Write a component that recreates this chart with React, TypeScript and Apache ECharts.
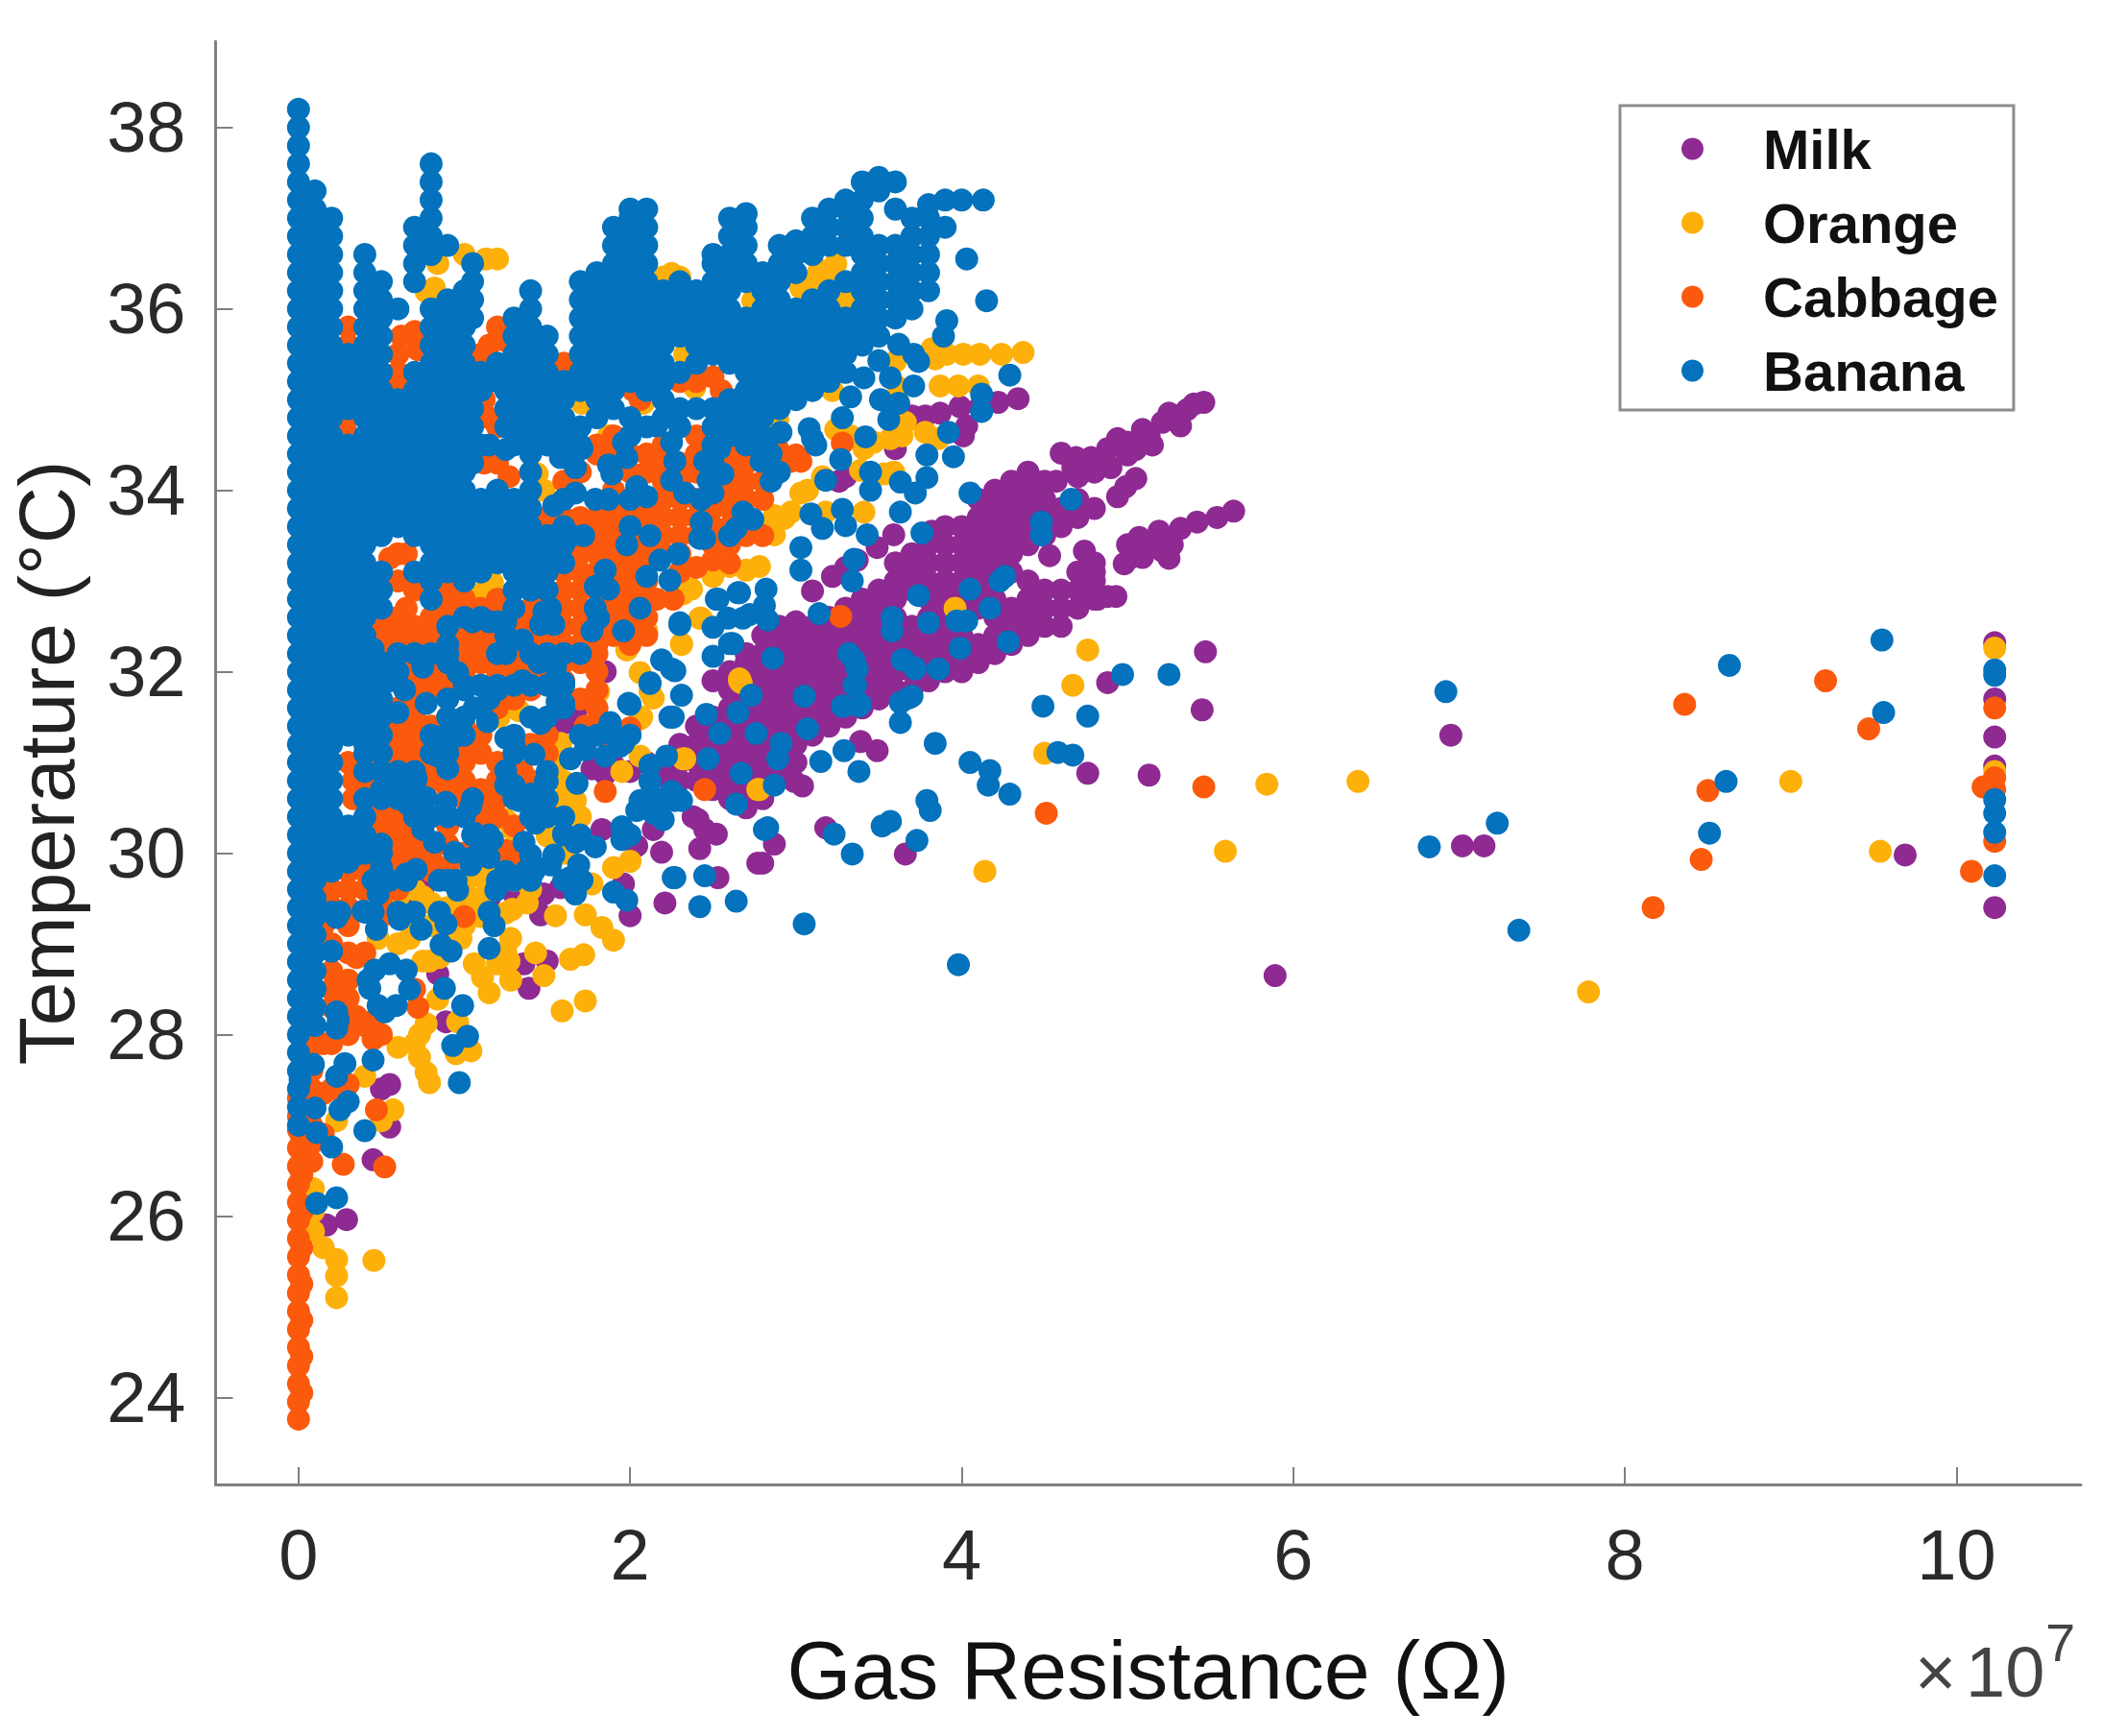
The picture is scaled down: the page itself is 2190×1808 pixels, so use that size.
import React, { useEffect, useRef } from 'react';
import * as echarts from 'echarts';

const xTicks = [0, 2, 4, 6, 8, 10];
const yTicks = [24, 26, 28, 30, 32, 34, 36, 38];

// x in units of 1e7 ohm, y in degrees C
const milkColumns: [number, number[]][] = [
  [2.3, [31.0, 31.2]],
  [2.4, [30.8, 31.0, 31.2, 31.4]],
  [2.5, [30.7, 30.9, 31.1, 31.3, 31.5, 31.9]],
  [2.6, [30.6, 30.8, 31.0, 31.2, 31.4, 31.6, 31.8, 32.0]],
  [2.7, [30.5, 30.7, 30.9, 31.1, 31.3, 31.5, 31.7, 31.9, 32.1, 32.2]],
  [2.8, [30.6, 30.8, 31.0, 31.2, 31.4, 31.6, 31.8, 32.0, 32.2, 32.4]],
  [2.9, [30.9, 31.1, 31.3, 31.5, 31.7, 31.9, 32.1, 32.3, 32.5]],
  [3.0, [31.0, 31.2, 31.4, 31.6, 31.8, 32.0, 32.2, 32.4, 32.55]],
  [3.1, [31.3, 31.5, 31.7, 31.9, 32.1, 32.3, 32.5]],
  [3.2, [31.4, 31.6, 31.8, 32.0, 32.2, 32.4, 32.6]],
  [3.3, [31.5, 31.7, 31.9, 32.1, 32.3, 32.5, 32.7]],
  [3.4, [31.6, 31.8, 32.0, 32.2, 32.4, 32.6, 32.8]],
  [3.5, [31.7, 31.9, 32.1, 32.3, 32.5, 32.7, 32.9]],
  [3.6, [31.8, 32.0, 32.2, 32.4, 32.6, 32.8, 33.0, 33.2]],
  [3.7, [31.8, 32.0, 32.1, 32.3, 32.5, 32.9, 33.1, 33.3]],
  [3.8, [31.9, 32.1, 32.2, 32.4, 32.6, 32.8, 33.0, 33.2, 33.4]],
  [3.9, [32.0, 32.1, 32.3, 32.5, 32.7, 32.9, 33.0, 33.2, 33.4, 33.6]],
  [4.0, [32.0, 32.2, 32.4, 32.6, 32.8, 33.0, 33.2, 33.4, 33.6]],
  [4.1, [32.1, 32.3, 32.7, 32.9, 33.1, 33.3, 33.5, 33.7, 33.9]],
  [4.2, [32.2, 32.4, 32.6, 32.8, 33.0, 33.2, 33.4, 33.6, 33.8, 34.0]],
  [4.3, [32.3, 32.5, 32.7, 33.1, 33.3, 33.5, 33.7, 33.9, 34.1]],
  [4.4, [32.4, 32.6, 32.8, 33.0, 33.4, 33.6, 33.8, 34.0, 34.2]],
  [4.5, [32.5, 32.7, 32.9, 33.5, 33.7, 33.9, 34.1]],
  [4.6, [32.5, 32.7, 32.9, 33.6, 33.8]],
  [4.7, [32.7, 32.9, 33.1, 33.7, 33.9]],
  [4.8, [32.8, 33.0, 33.2, 33.8]],
];
const milkLoose: [number, number][] = [
  [5.46, 34.97], [5.4, 34.95], [5.36, 34.89], [5.32, 34.71], [5.3, 34.82], [5.25, 34.85], [5.21, 34.75], [5.15, 34.5], [5.13, 34.6], [5.09, 34.67],
  [5.07, 34.53], [5.05, 34.45], [5.0, 34.53], [5.0, 34.39], [4.94, 34.57], [4.9, 34.25], [4.88, 34.46], [4.86, 34.36], [4.8, 34.2], [4.78, 34.36],
  [4.76, 34.25], [4.7, 34.15], [4.69, 34.36], [4.67, 34.25], [4.6, 34.41], [4.57, 34.1],
  [5.05, 34.13], [4.99, 34.04], [4.94, 33.93],
  [5.64, 33.77], [5.54, 33.7], [5.42, 33.65], [5.32, 33.58], [5.27, 33.4], [5.25, 33.25], [5.21, 33.33], [5.2, 33.45], [5.19, 33.55],
  [5.15, 33.44], [5.1, 33.35], [5.09, 33.26], [5.07, 33.48], [5.02, 33.26], [5.0, 33.4], [4.98, 33.19],
  [4.88, 32.83], [4.53, 33.28], [4.74, 33.33], [4.8, 33.1], [4.82, 32.8],
  [4.34, 35.01], [4.22, 34.97], [4.11, 34.92], [3.99, 34.92], [3.87, 34.85], [3.78, 34.82], [3.7, 34.82],
  [4.03, 34.71], [4.01, 34.6], [3.6, 34.46], [3.3, 34.15], [3.26, 34.1],
  [3.59, 33.51], [3.49, 33.37], [3.37, 33.23], [3.22, 33.05], [3.1, 32.89], [3.3, 33.15], [3.82, 33.55],
  [10.23, 32.32], [10.23, 31.7], [10.23, 31.28], [10.23, 30.96], [10.23, 29.4],
  [9.69, 29.98], [7.15, 30.08], [7.02, 30.08], [6.95, 31.3], [5.89, 28.65], [5.47, 32.22], [5.45, 31.58],
  [5.13, 30.86], [4.76, 30.88], [4.88, 31.88], [4.93, 32.83],
  [3.04, 30.74], [2.99, 30.79], [3.39, 31.23], [3.49, 31.13], [3.18, 30.28], [3.66, 29.99], [2.87, 30.1],
  [2.77, 29.89], [2.53, 29.73], [2.42, 30.05], [2.41, 30.37], [2.45, 30.26], [2.52, 30.21], [2.21, 29.45],
  [2.0, 29.31], [1.96, 29.66], [2.8, 29.89], [2.19, 30.01], [2.38, 30.4], [2.14, 30.26], [2.04, 30.08],
  [1.83, 30.26], [1.54, 30.54], [1.6, 30.5], [1.46, 29.32], [1.36, 28.78], [1.39, 28.51], [1.5, 28.81],
  [.84, 28.67], [.89, 28.14], [.5, 27.4], [.55, 27.45], [.55, 26.98], [.45, 26.62], [.17, 25.9], [.29, 25.96],
  [1.77, 30.93], [1.85, 30.87], [1.9, 30.97], [1.67, 31.53], [1.6, 31.43], [1.55, 31.45], [1.85, 32.0],
  [1.48, 29.55], [1.58, 29.62], [1.35, 29.7], [1.3, 29.55], [.75, 29.6], [.7, 29.4], [1.15, 29.5], [1.15, 29.3],
  [2.0, 30.9], [2.1, 31.0], [2.2, 30.85], [2.3, 30.8],
];

const orangeLoose: [number, number][] = [
  [.23, 25.1], [.23, 25.34], [.23, 25.52], [.15, 25.65], [.09, 25.83], [.455, 25.51], [.09, 26.3], [.09, 26.05],
  [.6, 27.86], [.7, 27.9], [.77, 28.12], [.73, 28.0], [.73, 27.75], [.77, 27.58], [.79, 27.47], [.84, 28.39],
  [.96, 28.14], [1.04, 27.82], [.95, 27.79], [1.73, 28.37], [1.59, 28.26], [1.64, 28.83], [1.72, 28.88],
  [1.9, 29.04], [1.83, 29.18], [1.73, 29.32], [1.55, 29.31], [1.48, 28.65], [1.43, 28.9], [1.28, 28.6],
  [1.27, 28.81], [1.28, 29.06], [1.25, 28.92], [1.2, 28.78], [1.15, 28.46], [1.11, 28.63], [1.06, 28.78],
  [.98, 29.06], [.79, 28.81], [.75, 28.81], [.8, 29.45], [.84, 29.38], [.75, 29.52], [1.08, 29.45], [1.02, 29.38],
  [1.29, 29.38], [1.38, 29.45], [1.25, 29.34], [1.77, 29.66], [1.9, 29.84], [2.0, 29.91], [2.33, 31.04],
  [2.67, 31.88], [2.77, 30.7], [1.58, 31.18], [1.56, 31.0], [1.6, 30.79], [1.67, 30.58], [1.25, 30.37],
  [1.29, 30.26], [1.5, 30.19], [1.11, 29.73], [.48, 29.06], [.67, 29.06], [.23, 27.05], [.4, 27.54], [.57, 27.17],
  [.5, 27.05], [2.06, 31.07], [2.12, 31.78], [2.06, 31.48], [1.81, 31.78], [1.95, 30.9], [.8, 29.2], [.9, 29.1],
  [.6, 29.5], [.7, 29.6], [1.0, 29.6], [1.0, 29.8], [1.2, 29.9], [1.3, 29.7], [1.4, 29.6], [1.1, 29.5], [1.1, 29.3],
  [.6, 29.0], [.7, 29.2], [.9, 29.4], [1.0, 29.2], [.85, 28.85], [1.6, 30.6], [1.7, 30.4], [1.5, 30.4], [1.6, 30.0],
  [2.42, 32.59], [2.31, 32.3], [2.32, 32.86], [2.1, 32.45], [1.98, 32.24], [2.06, 31.99], [2.14, 31.71],
  [2.07, 31.5], [1.77, 31.71], [1.58, 31.21], [2.7, 33.12], [2.78, 33.16], [2.6, 33.16], [2.5, 33.05],
  [2.37, 32.91], [2.66, 31.9], [1.15, 33.05], [1.17, 32.98], [1.11, 32.87], [.98, 32.73], [1.21, 31.5],
  [1.33, 31.57], [2.76, 33.62], [1.48, 34.0], [1.44, 34.18], [1.87, 34.6], [1.71, 34.96], [2.08, 34.96],
  [2.39, 35.13], [2.33, 35.5], [1.75, 35.75], [1.95, 36.2], [2.74, 36.09], [2.56, 36.33], [2.25, 36.39],
  [.77, 36.19], [.82, 36.23], [2.62, 34.64], [2.2, 36.35],
  [3.82, 35.56], [3.91, 35.5], [4.01, 35.5], [4.11, 35.5], [4.24, 35.5], [4.37, 35.52], [3.84, 35.45],
  [3.87, 35.15], [3.98, 35.15], [4.1, 35.15], [3.6, 35.42], [3.62, 35.13], [3.22, 35.1],
  [3.66, 34.75], [3.78, 34.64], [3.86, 34.57], [3.57, 34.57], [3.64, 34.6], [3.47, 34.53], [3.33, 34.6],
  [3.24, 34.67], [3.41, 34.46], [3.59, 34.2], [3.53, 34.18], [3.39, 34.22], [3.07, 34.0], [3.16, 34.15],
  [3.03, 33.97], [2.87, 33.72], [2.93, 33.69], [2.87, 33.51], [2.97, 33.76], [3.41, 33.76], [3.18, 33.76],
  [2.89, 34.78], [3.29, 36.09], [3.08, 36.3], [3.03, 36.23], [3.18, 36.4], [3.96, 32.7], [4.76, 32.24],
  [4.67, 31.85], [4.5, 31.1], [4.14, 29.8], [2.32, 31.04], [2.66, 31.92], [2.31, 32.31], [2.43, 32.59], [2.78, 30.7],
  [1.13, 36.55], [1.0, 36.6], [.84, 36.5], [2.3, 36.35], [3.14, 36.43], [3.24, 36.5], [1.2, 36.55],
  [10.23, 32.26], [10.23, 30.9], [6.39, 30.79], [5.84, 30.76], [9.0, 30.79], [9.54, 30.02], [7.78, 28.47], [5.59, 30.02],
];

const cabbageColumns: [number, number[]][] = [
  [0.0, [23.76, 23.95, 24.15, 24.35, 24.55, 24.75, 24.95, 25.15, 25.35, 25.55, 25.75, 25.95, 26.15, 26.35, 26.55, 26.75, 26.95, 27.1, 27.3]],
  [0.02, [24.05, 24.45, 24.85, 25.25, 25.65, 26.05, 26.45, 26.85, 27.2]],
  [0.08, [26.6, 26.8, 27.0, 27.2, 27.4, 27.6]],
  [0.4, [29.6, 29.8, 30.6, 30.8, 31.0]],
  [0.5, [29.3, 29.5, 30.3, 30.5, 32.3, 32.5]],
  [0.6, [29.6, 29.8, 30.0, 30.2, 30.4, 31.0, 31.2, 31.4, 31.6, 32.4, 32.6, 33.0]],
  [0.7, [29.9, 30.1, 30.3, 30.7, 31.1, 31.3, 31.5, 31.7, 31.9, 32.1, 32.3, 32.5]],
  [0.8, [29.8, 30.0, 30.4, 30.8, 31.0, 31.2, 31.4, 31.8, 32.0, 32.2, 32.4, 32.6]],
  [0.9, [30.1, 30.3, 30.7, 31.5, 31.9, 32.7, 32.9]],
  [1.0, [30.0, 30.6, 30.8, 31.0, 31.2, 31.4, 32.0, 32.2, 32.4, 32.6, 32.8]],
  [1.1, [30.3, 30.5, 30.7, 31.1, 31.3, 32.1, 32.3, 32.5, 32.7]],
  [1.2, [30.4, 30.6, 30.8, 31.0, 31.6, 32.0, 32.2, 32.4, 32.6, 32.8]],
  [1.3, [30.3, 30.7, 30.9, 31.1, 31.7, 31.9, 32.1, 32.3, 32.5]],
  [1.4, [30.8, 31.2, 31.8, 32.0, 32.2, 32.4]],
  [1.5, [31.1, 31.3, 31.9, 32.1, 32.3]],
  [1.6, [31.9, 32.1, 33.1, 32.9, 32.7, 32.5, 32.3, 34.1, 33.7]],
  [1.7, [31.7, 32.1, 34.2, 33.7, 33.5, 33.3, 33.1, 32.9, 32.7, 32.5, 32.3, 32.15]],
  [1.8, [31.6, 31.8, 32.0, 32.2, 34.5, 34.4, 33.7, 33.5, 33.3, 33.1, 32.9, 32.7, 32.5, 32.3]],
  [1.9, [34.6, 34.4, 34.2, 34.0, 33.8, 33.6, 33.4, 33.2, 33.0, 32.8, 32.6, 32.4]],
  [2.0, [34.4, 34.2, 33.7, 33.5, 33.3, 33.1, 32.9, 32.7, 32.5, 32.3]],
  [2.1, [34.4, 34.2, 33.8, 33.6, 33.4, 33.2, 33.0, 32.8, 32.6, 32.4]],
  [2.2, [34.5, 34.3, 34.1, 33.9, 33.7, 33.5, 33.3]],
  [2.3, [34.3, 34.1, 33.9, 33.7, 33.5, 33.3, 33.1]],
  [2.4, [34.6, 34.4, 34.2, 33.9, 33.7, 33.5]],
  [2.5, [33.8, 33.6, 33.4]],
  [2.6, [34.4, 34.2, 34.0, 33.8, 33.6, 33.4]],
  [2.7, [34.3, 34.1, 33.9, 33.5]],
  [2.8, [34.1, 33.9, 33.5]],
];
const cabbageLoose: [number, number][] = [
  [.3, 35.8], [.3, 35.6], [.62, 35.7], [.6, 35.5], [.6, 35.3], [.6, 35.15], [.7, 35.75], [.72, 35.55],
  [1.2, 35.8], [1.15, 35.6], [1.1, 35.5], [1.25, 35.65], [1.6, 35.4], [1.55, 35.35], [1.65, 35.35],
  [2.06, 35.0], [2.02, 35.1], [2.4, 35.2], [2.5, 35.25], [2.55, 35.1], [2.3, 35.2],
  [1.12, 35.0], [1.15, 34.8], [1.2, 34.7], [1.12, 34.3], [1.2, 34.3], [1.27, 34.15], [.28, 34.7],
  [1.5, 33.7], [1.4, 32.5], [1.4, 32.7], [1.5, 32.3], [1.45, 32.85], [1.35, 32.6],
  [2.5, 33.23], [2.4, 33.15], [2.6, 33.2], [2.16, 32.8], [2.26, 32.8],
  [.6, 33.3], [.55, 33.25], [.65, 33.3], [.7, 32.9], [.65, 32.7], [.55, 32.4],
  [.75, 32.45], [.3, 32.2],
  [.3, 31.0], [.33, 30.8], [.33, 30.6], [.36, 30.9],
  [.7, 30.0], [.9, 29.85], [.85, 29.8],
  [1.35, 30.9], [1.3, 29.95], [.3, 30.1], [.25, 30.15], [.2, 29.4], [.2, 29.6], [.3, 29.6], [.3, 29.8],
  [.3, 29.4], [.3, 29.2], [.15, 29.2], [.2, 29.0], [.3, 28.9], [.2, 28.7], [.3, 28.6], [.3, 28.4], [.2, 28.5],
  [.2, 28.3], [.1, 28.3], [.1, 28.1], [.15, 27.9], [.1, 27.9], [.05, 27.7], [.2, 27.9], [.3, 28.0], [.35, 28.2],
  [.4, 28.1], [.45, 28.15], [.45, 27.95], [.5, 28.0], [.35, 28.85], [.4, 28.9], [.05, 27.3], [.2, 27.4], [.3, 27.45],
  [.15, 27.35], [.15, 26.9], [.7, 28.5], [.72, 28.3], [1.85, 30.68], [1.73, 31.4], [1.8, 31.4], [1.85, 31.3],
  [2.0, 31.38], [2.45, 30.7], [1.0, 29.3], [1.25, 30.03], [.47, 27.17], [.27, 26.57], [.52, 26.54],
  [2.89, 34.46], [3.0, 34.39], [3.28, 34.52], [2.97, 34.32], [3.03, 34.32], [3.27, 32.61],
  [9.21, 31.9], [9.47, 31.37], [8.36, 31.64], [8.5, 30.69], [8.46, 29.93], [8.17, 29.4], [10.09, 29.8], [10.16, 30.73],
  [10.23, 31.6], [10.23, 30.83], [10.23, 30.7], [10.23, 30.13], [5.46, 30.73], [4.51, 30.44],
];

const bananaColumns: [number, number[]][] = [
  [0.0, [27.0, 27.2, 27.4, 27.6, 27.8, 28.0, 28.2, 28.4, 28.6, 28.8, 29.0, 29.2, 29.4, 29.6, 29.8, 30.0, 30.2, 30.4, 30.6, 30.8, 31.0, 31.2, 31.4, 31.6, 31.8, 32.0, 32.2, 32.4, 32.6, 32.8, 33.0, 33.2, 33.4, 33.6, 33.8, 34.0, 34.2, 34.4, 34.6, 34.8, 35.0, 35.2, 35.4, 35.6, 35.8, 36.0, 36.2, 36.4, 36.6, 36.8, 37.0, 37.2, 37.4, 37.6, 37.8, 38.0, 38.2]],
  [0.1, [28.1, 28.3, 28.5, 28.7, 28.9, 29.1, 29.3, 29.5, 29.7, 29.9, 30.1, 30.3, 30.5, 30.7, 30.9, 31.1, 31.3, 31.5, 31.7, 31.9, 32.1, 32.3, 32.5, 32.7, 32.9, 33.1, 33.3, 33.5, 33.7, 33.9, 34.1, 34.3, 34.5, 34.7, 34.9, 35.1, 35.3, 35.5, 35.7, 35.9, 36.1, 36.3, 36.5, 36.7, 36.9, 37.1, 37.3]],
  [0.2, [29.8, 30.0, 30.2, 30.4, 30.6, 30.8, 31.0, 31.2, 31.4, 31.6, 31.8, 32.0, 32.2, 32.4, 32.6, 32.8, 33.0, 33.2, 33.4, 33.6, 33.8, 34.0, 34.2, 34.4, 34.6, 34.8, 35.0, 35.2, 35.4, 35.6, 35.8, 36.0, 36.2, 36.4, 36.6, 36.8, 37.0]],
  [0.3, [29.9, 30.1, 30.3, 31.3, 31.5, 31.7, 31.9, 32.1, 32.3, 32.5, 32.7, 32.9, 33.1, 33.3, 33.5, 33.7, 33.9, 34.1, 34.3, 34.5, 34.9, 35.1, 35.3, 35.5]],
  [0.4, [30.0, 30.2, 30.4, 30.6, 30.9, 31.1, 31.2, 31.3, 31.4, 31.6, 31.8, 32.0, 32.2, 32.4, 32.6, 32.8, 33.0, 33.2, 33.4, 33.6, 33.8, 34.0, 34.2, 34.4, 34.6, 34.8, 35.0, 35.2, 35.4, 35.6, 35.8, 36.0, 36.2, 36.4, 36.6]],
  [0.5, [30.0, 30.1, 30.6, 30.7, 30.9, 31.1, 31.3, 31.5, 31.7, 31.9, 32.1, 32.7, 32.9, 33.1, 33.5, 33.7, 33.9, 34.1, 34.3, 34.5, 34.7, 34.9, 35.1, 35.3, 35.5, 35.7, 35.9, 36.1, 36.3]],
  [0.6, [30.6, 30.75, 30.8, 30.9, 32.0, 32.2, 33.6, 33.8, 34.0, 34.2, 34.4, 34.6, 34.8, 35.0, 36.0]],
  [0.7, [30.4, 30.75, 30.9, 32.2, 33.1, 33.5, 33.7, 33.9, 34.1, 34.3, 34.5, 34.7, 34.9, 35.1, 35.3, 36.3, 36.5, 36.7, 36.9]],
  [0.8, [30.4, 31.1, 31.3, 32.2, 32.8, 33.0, 33.2, 33.4, 33.6, 33.8, 34.0, 34.2, 34.4, 34.6, 34.8, 35.0, 35.2, 35.4, 35.6, 35.8, 36.0, 36.6, 36.8, 37.0, 37.2, 37.4, 37.6]],
  [0.9, [30.4, 31.1, 31.3, 31.5, 32.1, 32.2, 32.3, 32.5, 33.1, 33.3, 33.5, 33.7, 33.9, 34.1, 34.3, 34.5, 34.7, 34.9, 35.1, 35.3, 35.5, 35.7, 35.9, 36.1, 36.7]],
  [1.0, [30.4, 31.3, 31.5, 31.85, 33.0, 33.2, 33.4, 33.6, 33.8, 34.0, 34.2, 34.4, 34.6, 34.8, 35.0, 35.2, 35.4, 35.6, 35.8, 36.0, 36.2]],
  [1.05, [29.95, 30.2, 30.6, 32.55, 34.3, 34.7, 34.9, 35.9, 36.1, 36.3, 36.5]],
  [1.1, [31.6, 31.85, 33.1, 33.3, 33.5, 33.7, 33.9, 34.5, 35.1, 35.3]],
  [1.15, [29.95, 30.2, 32.55, 34.5]],
  [1.2, [31.85, 32.2, 33.2, 33.4, 33.6, 33.8, 34.0, 35.2, 35.4]],
  [1.25, [30.75, 32.2, 32.55, 34.45, 34.7, 34.9, 35.1]],
  [1.3, [29.7, 30.6, 30.75, 31.1, 31.3, 31.85, 32.9, 33.1, 33.3, 33.5, 33.7, 33.9, 34.5, 34.7, 34.9, 35.1, 35.3, 35.5, 35.7, 35.9]],
  [1.4, [29.7, 30.4, 30.6, 31.85, 32.2, 32.9, 33.0, 33.2, 33.4, 33.6, 33.8, 34.0, 34.2, 34.4, 34.6, 34.8, 35.0, 35.2, 35.4, 35.6, 35.8, 36.0, 36.2]],
  [1.5, [30.4, 30.6, 30.9, 31.5, 31.85, 32.2, 32.9, 33.1, 33.3, 33.5, 34.5, 34.7, 34.9, 35.1, 35.3, 35.5, 35.7]],
  [1.6, [29.7, 30.2, 30.4, 31.6, 31.85, 32.2, 33.2, 33.4, 34.4, 34.6, 34.8, 35.0, 35.2]],
  [1.7, [29.7, 30.2, 31.3, 32.2, 34.5, 34.7, 35.1, 35.3, 35.5, 35.7, 35.9, 36.1, 36.3]],
  [1.8, [31.3, 34.8, 35.0, 35.2, 35.4, 35.6, 35.8, 36.0, 36.2, 36.4]],
  [1.9, [31.3, 34.9, 35.1, 35.3, 35.5, 35.7, 35.9, 36.1, 36.3, 36.5, 36.7, 36.9]],
  [2.0, [30.2, 31.3, 34.6, 34.8, 35.2, 35.4, 35.6, 35.8, 36.0, 36.2, 36.4, 36.6, 36.8, 37.0, 37.1]],
  [2.1, [30.6, 34.7, 35.1, 35.3, 35.5, 35.7, 35.9, 36.1, 36.3, 36.5, 36.7, 36.9, 37.1]],
  [2.2, [30.6, 34.8, 35.0, 35.2, 35.4, 35.6, 35.8, 36.0, 36.2]],
  [2.3, [30.6, 34.7, 34.9, 35.3, 35.7, 35.9, 36.1, 36.3]],
  [2.4, [34.9, 35.4, 35.6, 35.8, 36.0, 36.2]],
  [2.5, [34.3, 34.5, 34.7, 34.9, 35.5, 35.7, 35.9, 36.1, 36.3, 36.5, 36.6]],
  [2.6, [34.6, 34.8, 35.0, 35.4, 35.6, 35.8, 36.0, 36.2, 36.4, 36.6, 36.8, 37.0]],
  [2.7, [34.5, 34.7, 34.9, 35.1, 35.3, 35.5, 35.7, 35.9, 36.3, 36.5, 36.7, 36.9, 37.05]],
  [2.8, [34.4, 34.6, 34.8, 35.0, 35.2, 35.4, 35.6, 35.8, 36.0, 36.2, 36.4]],
  [2.9, [34.9, 35.1, 35.3, 35.5, 35.7, 35.9, 36.1, 36.3, 36.5, 36.7]],
  [3.0, [35.0, 35.2, 35.4, 35.6, 35.8, 36.0, 36.4, 36.6, 36.75]],
  [3.1, [35.1, 35.3, 35.5, 35.7, 35.9, 36.1, 36.6, 36.8, 37.0]],
  [3.2, [35.2, 35.4, 35.6, 35.8, 36.0, 36.2, 36.7, 36.9, 37.1]],
  [3.3, [35.3, 35.5, 35.7, 35.9, 36.3, 36.7, 36.9, 37.1, 37.2]],
  [3.4, [35.6, 35.8, 36.0, 36.2, 36.4, 36.6, 36.8, 37.0, 37.2, 37.4]],
  [3.5, [35.7, 35.9, 36.1, 36.3, 36.5, 36.7, 37.3, 37.45]],
  [3.6, [35.9, 36.1, 36.3, 36.5, 36.7, 37.1, 37.4]],
  [3.7, [36.0, 36.2, 36.4, 36.6, 36.8, 37.0]],
  [3.8, [36.2, 36.4, 36.6, 36.8, 37.0, 37.15]],
  [3.9, [36.9, 37.2]],
  [4.0, [37.2]],
  [4.13, [37.2]],
];
const bananaLoose: [number, number][] = [
  [4.03, 36.55], [4.15, 36.09], [3.91, 35.87], [3.89, 35.7], [3.62, 35.61], [3.71, 35.5], [3.74, 35.42], [3.5, 35.43],
  [3.57, 35.24], [3.41, 35.24], [4.29, 35.27], [3.71, 35.15], [4.12, 35.06], [4.12, 34.87], [3.33, 35.03], [3.51, 35.0],
  [3.62, 34.96], [3.28, 34.8], [3.56, 34.78], [3.42, 34.59], [3.92, 34.64], [3.95, 34.37], [3.79, 34.39], [3.79, 34.14],
  [3.27, 34.34], [3.18, 34.11], [2.91, 34.64], [3.12, 34.5], [3.08, 34.68], [3.45, 34.2], [3.45, 34.0], [3.63, 34.09],
  [3.72, 33.97], [4.05, 33.97], [3.63, 33.76], [3.09, 33.74], [3.16, 33.58], [3.28, 33.79], [3.3, 33.61], [3.43, 33.51],
  [3.76, 33.53], [3.03, 33.37], [3.03, 33.12], [3.35, 33.24], [3.34, 33.0], [4.66, 33.9], [4.48, 33.51], [4.48, 33.65],
  [4.26, 33.05], [4.23, 33.0], [4.05, 32.91], [3.74, 32.84], [4.17, 32.7], [3.8, 32.54], [4.03, 32.56], [3.97, 32.56],
  [3.58, 32.45], [3.58, 32.6], [3.14, 32.64], [4.28, 32.33], [3.99, 32.26], [3.86, 32.03], [3.72, 32.03], [3.64, 32.13],
  [3.35, 32.13], [3.35, 31.85], [3.05, 31.73], [3.29, 31.62], [3.38, 31.62], [3.68, 31.71], [3.63, 31.44], [3.07, 31.37],
  [2.86, 32.15], [3.84, 31.21], [3.32, 32.2], [3.37, 32.03], [3.36, 31.85], [3.39, 31.64], [3.28, 31.62], [3.65, 32.13],
  [3.72, 32.04], [3.7, 31.73], [3.63, 31.66], [2.73, 31.74], [2.65, 31.55], [2.46, 31.53], [2.54, 31.32], [2.76, 31.32],
  [2.91, 31.21], [2.89, 31.04], [3.15, 31.01], [3.29, 31.13], [2.47, 31.04], [2.67, 30.88], [2.87, 30.75], [2.27, 30.58],
  [2.64, 30.54], [3.38, 30.9], [4.05, 31.0], [4.17, 30.91], [4.16, 30.75], [4.29, 30.65], [3.79, 30.58], [3.81, 30.47],
  [3.57, 30.35], [3.52, 30.3], [3.73, 30.14], [3.23, 30.21], [3.34, 29.99], [2.83, 30.28], [2.45, 29.75], [2.27, 29.73],
  [2.42, 29.41], [2.64, 29.47], [3.05, 29.22], [3.98, 28.77], [4.49, 31.62], [4.76, 31.51], [4.58, 31.11], [4.67, 31.08],
  [4.97, 31.97], [5.25, 31.97], [2.53, 32.8], [2.65, 32.87], [2.82, 32.91], [2.81, 32.73], [2.72, 32.63], [2.59, 32.59],
  [2.5, 32.49], [2.83, 32.57], [2.62, 32.31], [2.5, 32.17], [2.3, 32.52], [2.27, 32.01], [2.31, 31.74], [2.26, 31.5],
  [.64, 31.8], [.77, 31.65], [.4, 31.85], [.5, 31.53], [.88, 31.21], [.84, 31.28], [.94, 31.28], [.9, 30.93], [.84, 31.07],
  [1.06, 31.6], [1.14, 31.45], [1.25, 31.27], [1.3, 31.2], [1.42, 31.09], [1.25, 30.91], [1.46, 31.43], [1.4, 31.5],
  [1.56, 31.67], [1.6, 31.88], [1.68, 30.77], [1.49, 30.79], [1.64, 31.04], [1.73, 31.14], [1.85, 31.07], [1.94, 31.18],
  [1.96, 31.21], [1.88, 31.44], [1.99, 31.65], [2.12, 31.88], [2.25, 31.5], [.61, 30.86], [.71, 30.82], [.66, 30.54],
  [.77, 30.61], [.89, 30.56], [1.04, 30.52], [1.33, 30.58], [1.4, 30.65], [1.46, 30.5], [1.43, 30.33], [1.5, 30.79],
  [.75, 30.26], [.82, 30.12], [.94, 30.01], [1.06, 30.22], [1.17, 30.15], [1.1, 30.01], [1.04, 29.87], [.48, 30.05],
  [.34, 29.98], [1.36, 30.12], [1.4, 29.98], [1.37, 29.8], [1.25, 29.8], [1.19, 29.59], [1.42, 29.8], [1.54, 29.98],
  [1.6, 30.22], [1.67, 30.12], [1.79, 30.07], [1.69, 29.87], [1.64, 29.73], [1.67, 29.55], [1.71, 29.7], [1.52, 29.87],
  [1.95, 30.29], [1.95, 30.15], [2.04, 30.47], [2.14, 30.44], [2.23, 30.61], [2.31, 30.58], [2.2, 30.37], [2.12, 30.97],
  [2.22, 31.07], [2.06, 30.58], [2.12, 30.79], [2.25, 30.68], [1.9, 29.57], [1.98, 29.48], [2.26, 29.73], [2.81, 30.26],
  [.5, 29.84], [.65, 29.77], [.71, 29.82], [.48, 29.55], [.39, 29.36], [.61, 29.27], [.74, 29.16], [.47, 29.16],
  [.23, 29.29], [.9, 29.7], [.96, 29.59], [.89, 29.22], [.92, 28.92], [.86, 28.99], [1.18, 29.2], [1.15, 28.95], [.2, 28.92],
  [.55, 28.78], [.46, 28.71], [.43, 28.51], [.48, 28.32], [.59, 28.32], [.67, 28.5], [.65, 28.71], [.42, 28.6], [.52, 28.25],
  [.24, 28.16], [.23, 28.07], [.23, 28.25], [.88, 28.51], [.99, 28.32], [1.02, 27.98], [.93, 27.88], [.97, 27.47],
  [.09, 27.67], [.28, 27.68], [.23, 27.54], [.45, 27.72], [.01, 27.5], [.1, 27.19], [.3, 27.26], [.25, 27.17], [.4, 26.94],
  [.11, 26.92], [.2, 26.76], [.11, 26.14], [.23, 26.2],
  [.2, 29.35], [.25, 29.35], [.4, 29.35], [.45, 29.35], [.6, 29.35], [.7, 29.35], [.85, 29.35], [1.15, 29.35],
  [.45, 29.7], [.55, 29.7], [.65, 29.7], [.85, 29.7], [.95, 29.7], [1.2, 29.7],
  [1.6, 33.9], [1.67, 33.97], [1.79, 33.9], [1.87, 33.9], [1.54, 33.83], [1.87, 34.28], [1.89, 34.18], [2.04, 34.04],
  [2.1, 33.93], [2.0, 33.9], [2.0, 33.6], [1.98, 33.4], [2.12, 33.5], [1.85, 33.12], [1.79, 32.94], [1.87, 32.91],
  [1.48, 32.66], [1.54, 32.52], [1.46, 32.52], [1.52, 32.7], [1.81, 32.59], [1.77, 32.45], [1.79, 32.7], [1.96, 32.45],
  [2.1, 33.05], [2.24, 33.01], [2.18, 33.23], [2.29, 33.3], [2.06, 32.7], [2.3, 32.54], [2.19, 32.13], [2.25, 32.03],
  [2.12, 31.87], [2.0, 31.64], [2.24, 31.5], [1.88, 31.43], [2.33, 33.97], [2.42, 33.47], [2.64, 33.58], [2.68, 33.76],
  [2.52, 32.8], [2.66, 32.87], [2.68, 32.59], [2.6, 32.31], [2.85, 34.4], [2.85, 34.1], [2.9, 34.2], [3.1, 34.57],
  [2.79, 34.32], [2.83, 34.57], [.96, 31.99], [.75, 32.05], [1.0, 32.6], [.45, 32.25], [.55, 31.9], [.9, 31.7], [1.0, 31.8],
  [.6, 31.55], [1.1, 31.85], [1.2, 31.8], [1.35, 31.9], [1.25, 32.4], [1.35, 32.35], [1.2, 32.55], [1.1, 32.6], [1.3, 32.7],
  [1.55, 32.05], [1.45, 32.1], [1.6, 31.65], [1.15, 31.7],
  [1.52, 34.57], [1.58, 34.36], [1.71, 34.46], [1.67, 34.25], [1.96, 34.53], [1.98, 34.36], [2.16, 34.71], [2.25, 34.53],
  [2.27, 34.32], [2.25, 34.11], [2.45, 34.32], [2.47, 34.11], [2.54, 34.46], [2.43, 33.9], [2.43, 33.65], [2.5, 33.97],
  [2.56, 34.18], [2.8, 34.5], [2.74, 33.68], [2.6, 33.5], [2.45, 33.47], [1.55, 33.5], [1.6, 33.6], [1.65, 33.5], [1.72, 33.5],
  [6.92, 31.78], [9.55, 32.35], [8.63, 32.07], [9.56, 31.55], [8.61, 30.79], [7.23, 30.33], [6.82, 30.07], [8.51, 30.22],
  [7.36, 29.15], [10.23, 32.02], [10.23, 31.96], [10.23, 30.59], [10.23, 30.44], [10.23, 30.23], [10.23, 29.75],
];

const seriesNames = ['Milk', 'Orange', 'Cabbage', 'Banana'];
const seriesColors = ['#8E2A92', '#FDB00A', '#FB5A0C', '#0472BC'];

const fromColumns = (cols: [number, number[]][]) => cols.flatMap(([x, ys]) => ys.map(y => [x, y]));

const seriesData = [
  [...fromColumns(milkColumns), ...milkLoose],
  orangeLoose,
  [...fromColumns(cabbageColumns), ...cabbageLoose],
  [...fromColumns(bananaColumns), ...bananaLoose],
];

const App: React.FC = () => {
  const chartRef = useRef<HTMLDivElement>(null);

  useEffect(() => {
    if (!chartRef.current) return;
    const chart = echarts.init(chartRef.current, undefined, { renderer: 'svg' });
    const font = '"Liberation Sans", Arial, sans-serif';

    chart.setOption({
      animation: false,
      backgroundColor: '#fff',
      grid: { left: 224.5, top: 43, width: 1942.5, height: 1503, outerBoundsMode: 'none' },
      legend: {
        orient: 'vertical',
        left: 1687,
        top: 110,
        padding: [16, 16, 12, 64],
        itemWidth: 23,
        itemHeight: 23,
        itemGap: 19,
        icon: 'circle',
        backgroundColor: '#fff',
        borderColor: '#8c8c8c',
        borderWidth: 3,
        data: seriesNames,
        textStyle: { fontFamily: font, fontSize: 58, fontWeight: 'bold', color: '#111', padding: [0, 0, 0, 57], lineHeight: 43 },
      },
      xAxis: {
        type: 'value',
        min: -0.5,
        max: 10.75,
        name: 'Gas Resistance (Ω)',
        nameLocation: 'middle',
        nameGap: 150,
        nameMoveOverlap: false,
        nameTextStyle: { fontFamily: font, fontSize: 86, color: '#111' },
        splitLine: { show: false },
        axisLine: { onZero: false, lineStyle: { color: '#808080', width: 3 } },
        axisTick: { inside: true, length: 18, customValues: xTicks, lineStyle: { color: '#808080', width: 2 } },
        axisLabel: { customValues: xTicks, fontFamily: font, fontSize: 74, color: '#2a2a2a', margin: 36 },
      },
      yAxis: {
        type: 'value',
        min: 23.04,
        max: 38.95,
        name: 'Temperature (°C)',
        nameLocation: 'middle',
        nameRotate: 90,
        nameGap: 135,
        nameMoveOverlap: false,
        nameTextStyle: { fontFamily: font, fontSize: 82, color: '#222' },
        splitLine: { show: false },
        axisLine: { onZero: false, lineStyle: { color: '#808080', width: 3 } },
        axisTick: { inside: true, length: 18, customValues: yTicks, lineStyle: { color: '#808080', width: 2 } },
        axisLabel: { customValues: yTicks, fontFamily: font, fontSize: 74, color: '#2a2a2a', margin: 31 },
      },
      series: seriesNames.map((name, i) => ({
        name,
        type: 'scatter',
        data: seriesData[i],
        symbol: 'circle',
        symbolSize: 24,
        itemStyle: { color: seriesColors[i], opacity: 1 },
        emphasis: { disabled: true },
      })),
      graphic: [
        { type: 'text', x: 1994, y: 1704, style: { text: '×', fontFamily: font, fontSize: 74, fill: '#444' } },
        { type: 'text', x: 2047, y: 1704, style: { text: '10', fontFamily: font, fontSize: 74, fill: '#444' } },
        { type: 'text', x: 2130, y: 1682, style: { text: '7', fontFamily: font, fontSize: 56, fill: '#444' } },
      ],
    });

    return () => {
      chart.dispose();
    };
  }, []);

  return <div ref={chartRef} style={{ position: 'absolute', left: 0, top: 0, width: 2190, height: 1808 }} />;
};

export default App;
